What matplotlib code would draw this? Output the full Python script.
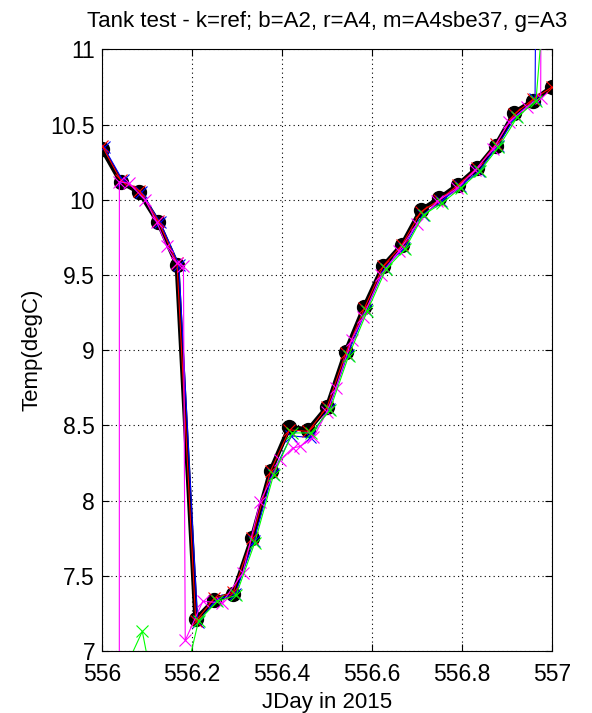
import numpy as np
import matplotlib
matplotlib.use('Agg')
import matplotlib.pyplot as plt

plt.rcParams['font.family'] = ['Liberation Sans', 'DejaVu Sans']

# hourly sample times (hours after JDay 556)
hours = np.arange(25)

# reference thermometer (k)
t_ref = [10.34, 10.12, 10.05, 9.85, 9.57, 7.21, 7.34, 7.38, 7.75, 8.20, 8.49, 8.47, 8.62,
         8.99, 9.29, 9.56, 9.70, 9.93, 10.01, 10.10, 10.21, 10.36, 10.58, 10.66, 10.75]
# A2 (b)
t_a2 = [10.35, 10.13, 10.05, 9.85, 9.57, 7.19, 7.34, 7.38, 7.73, 8.18, 8.43, 8.42, 8.61,
        8.97, 9.27, 9.55, 9.68, 9.90, 9.99, 10.09, 10.19, 10.36, 10.56, 10.67, 30.0]
# A4 (r)
t_a4 = [10.36, 10.13, 10.06, 9.86, 9.58, 7.20, 7.35, 7.39, 7.75, 8.20, 8.47, 8.46, 8.62,
        8.98, 9.28, 9.56, 9.70, 9.92, 10.00, 10.10, 10.21, 10.37, 10.57, 10.67, 10.75]
# A3 (g)
t_a3 = [6.80, 6.86, 7.13, 6.49, 6.67, 7.20, 7.33, 7.37, 7.72, 8.17, 8.45, 8.45, 8.60,
        8.96, 9.26, 9.54, 9.67, 9.90, 9.98, 10.08, 10.19, 10.35, 10.55, 10.66, 12.2]
# A4 logged with the SBE37 (m), own sampling times
jd_sbe = [556.0383, 556.0386, 556.060, 556.096, 556.122, 556.144, 556.166, 556.181, 556.185,
          556.224, 556.267, 556.313, 556.351, 556.396, 556.424, 556.440, 556.470, 556.500,
          556.520, 556.555, 556.580, 556.620, 556.660, 556.700, 556.745, 556.790, 556.830,
          556.870, 556.905, 556.945, 556.975, 556.990]
t_sbe = [2.0, 10.12, 10.11, 10.00, 9.85, 9.69, 9.58, 9.56, 7.07,
         7.33, 7.32, 7.52, 7.99, 8.27, 8.35, 8.36, 8.42, 8.59,
         8.75, 9.07, 9.22, 9.50, 9.66, 9.84, 9.99, 10.08, 10.20,
         10.34, 10.52, 10.62, 10.68, 25.0]

jd = 556 + hours / 24.0

fig = plt.figure(figsize=(5.92, 7.13), dpi=100)
ax = fig.add_axes([0.1723, 0.087, 0.760, 0.8436])

xkw = dict(lw=0.8, ms=9, mew=0.8, zorder=3)
ax.plot(jd, t_ref, '-o', color='k', lw=3.5, ms=10, zorder=2)
ax.plot(jd + 0.1 / 24, t_a2, '-x', color='#0000ff', **xkw)
ax.plot(jd, t_a4, '-x', color='#ff0000', **xkw)
ax.plot(jd_sbe, t_sbe, '-x', color='#ff00ff', **xkw)
ax.plot(jd + 0.15 / 24, t_a3, '-x', color='#00ff00', **xkw)

ax.set_xlim(556, 557)
ax.set_ylim(7, 11)
ax.set_xticks([556, 556.2, 556.4, 556.6, 556.8, 557])
ax.set_xticklabels(['556', '556.2', '556.4', '556.6', '556.8', '557'])
ax.set_yticks([7, 7.5, 8, 8.5, 9, 9.5, 10, 10.5, 11])
ax.set_yticklabels(['7', '7.5', '8', '8.5', '9', '9.5', '10', '10.5', '11'])
ax.grid(True, color='k', ls=(0, (1, 3)), lw=0.8)
ax.tick_params(direction='in', top=True, right=True, length=5, labelsize=16.5)
ax.tick_params(axis='x', pad=9)
ax.tick_params(axis='y', pad=5)
for s in ax.spines.values():
    s.set_linewidth(0.8)

ax.set_title('Tank test - k=ref; b=A2, r=A4, m=A4sbe37, g=A3', fontsize=16, pad=16)
ax.set_xlabel('JDay in 2015', fontsize=16, labelpad=4)
ax.set_ylabel('Temp(degC)', fontsize=16, labelpad=6)

fig.savefig('out.png', dpi=100)
